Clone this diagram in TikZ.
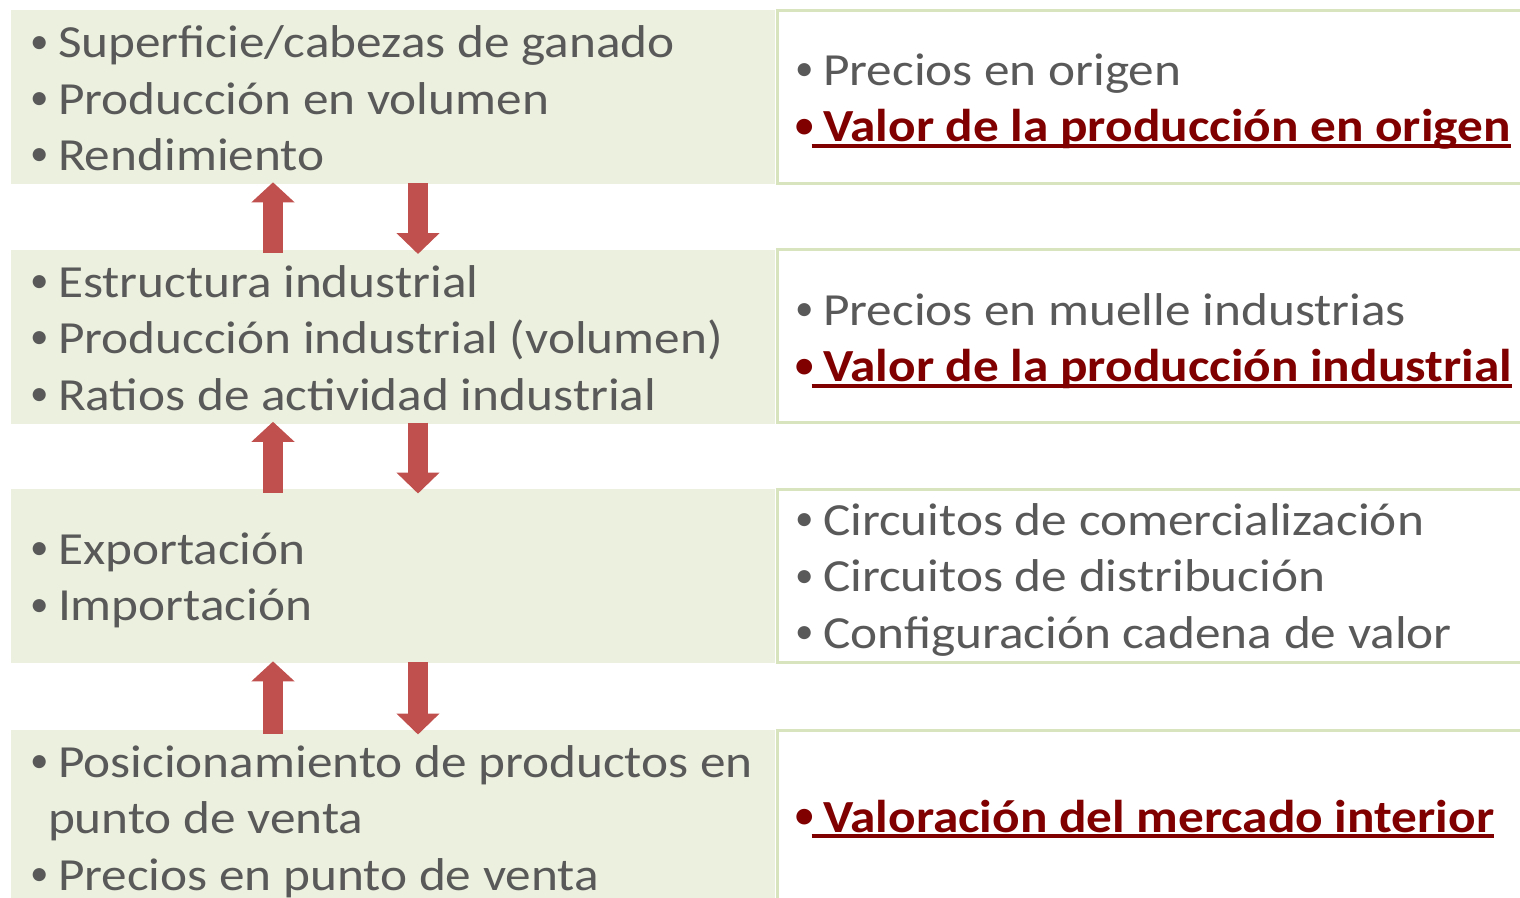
\documentclass[tikz,border=0pt]{standalone}
\usepackage{fontspec}
\setmainfont{Carlito}[FakeStretch=1.115]
\newfontfamily\bulfont{Carlito}
\usetikzlibrary{arrows.meta}
\definecolor{boxfill}{HTML}{EBF1DE}
\definecolor{boxline}{HTML}{D7E4BD}
\definecolor{arrowred}{HTML}{C0504D}
\definecolor{txtgray}{HTML}{595959}
\definecolor{txtred}{HTML}{800000}
\newcommand\mybul{\llap{\raisebox{4.5pt}{\bulfont\fontsize{37}{37}\selectfont\textbullet}\hspace{9.5pt}}}
\begin{document}
\begin{tikzpicture}[x=1pt,y=-1pt,
  lbox/.style={fill=boxfill, draw=none, minimum width=764pt, minimum height=174pt, anchor=north west, inner sep=0pt, outer sep=0pt},
  rbox/.style={draw=boxline, line width=3pt, fill=white, minimum width=800pt, minimum height=173pt, anchor=north west, inner sep=0pt, outer sep=0pt},
  gtext/.style={text=txtgray, font=\fontsize{46}{56}\selectfont, anchor=base west, inner sep=0pt, outer sep=0pt},
  rtext/.style={text=txtred, font=\fontsize{46}{56}\selectfont\bfseries, anchor=base west, inner sep=0pt, outer sep=0pt},
  uline/.style={draw=txtred, line width=4pt},
  uparr/.style={draw=arrowred, line width=20pt, -{Triangle[width=42pt,length=20pt]}, shorten <=-3.7pt, shorten >=-1.7pt},
  dnarr/.style={draw=arrowred, line width=20pt, -{Triangle[width=42pt,length=21pt]}, shorten <=-1pt, shorten >=-4.5pt}
]
\useasboundingbox (0,0) rectangle (1520,897);
\clip (0,0) rectangle (1520,897);
% left boxes
\node[lbox] (L1) at (11,10) {};
\node[lbox] (L2) at (11,249.5) {};
\node[lbox] (L3) at (11,489) {};
\node[lbox, minimum height=190pt] (L4) at (11,730) {};
% right boxes
\node[rbox] (R1) at (777.5,10.5) {};
\node[rbox] (R2) at (777.5,249.5) {};
\node[rbox] (R3) at (777.5,489) {};
\node[rbox, minimum height=200pt] (R4) at (777.5,730) {};
% left texts
\node[gtext] (t11) at (58,57.5) {\mybul Superficie/cabezas de ganado};
\node[gtext] (t12) at (58,114) {\mybul Producción en volumen};
\node[gtext] (t13) at (58,170) {\mybul Rendimiento};
\node[gtext] (t21) at (58,297) {\mybul Estructura industrial};
\node[gtext] (t22) at (58,353) {\mybul Producción industrial (volumen)};
\node[gtext] (t23) at (58,410) {\mybul Ratios de actividad industrial};
\node[gtext] (t31) at (58,564) {\mybul Exportación};
\node[gtext] (t32) at (58,620.5) {\mybul Importación};
\node[gtext] (t41) at (58,777) {\mybul Posicionamiento de productos en};
\node[gtext] (t42) at (48,833) {punto de venta};
\node[gtext] (t43) at (58,890) {\mybul Precios en punto de venta};
% right texts
\node[gtext] (r11) at (823,85) {\mybul Precios en origen};
\node[rtext] (r12) at (823,141.7) {\mybul Valor de la producción en origen};
\node[gtext] (r21) at (823,325) {\mybul Precios en muelle industrias};
\node[rtext] (r22) at (823,381.5) {\mybul Valor de la producción industrial};
\node[gtext] (r31) at (823,535) {\mybul Circuitos de comercialización};
\node[gtext] (r32) at (823,591.7) {\mybul Circuitos de distribución};
\node[gtext] (r33) at (823,648) {\mybul Configuración cadena de valor};
\node[rtext] (r41) at (823,832) {\mybul Valoración del mercado interior};
% underlines
\draw[uline] ([xshift=-11.3pt,yshift=-4.3pt]r12.base west) -- ([yshift=-4.3pt]r12.base east);
\draw[uline] ([xshift=-11.3pt,yshift=-4.3pt]r22.base west) -- ([yshift=-4.3pt]r22.base east);
\draw[uline] ([xshift=-11.3pt,yshift=-4.3pt]r41.base west) -- ([yshift=-4.3pt]r41.base east);
% arrows
\coordinate (ua) at (273,0);
\coordinate (da) at (418,0);
\draw[uparr] (ua |- L2.north) -- (ua |- L1.south);
\draw[dnarr] (da |- L1.south) -- (da |- L2.north);
\draw[uparr] (ua |- L3.north) -- (ua |- L2.south);
\draw[dnarr] (da |- L2.south) -- (da |- L3.north);
\draw[uparr] (ua |- L4.north) -- (ua |- L3.south);
\draw[dnarr] (da |- L3.south) -- (da |- L4.north);
\end{tikzpicture}
\end{document}
